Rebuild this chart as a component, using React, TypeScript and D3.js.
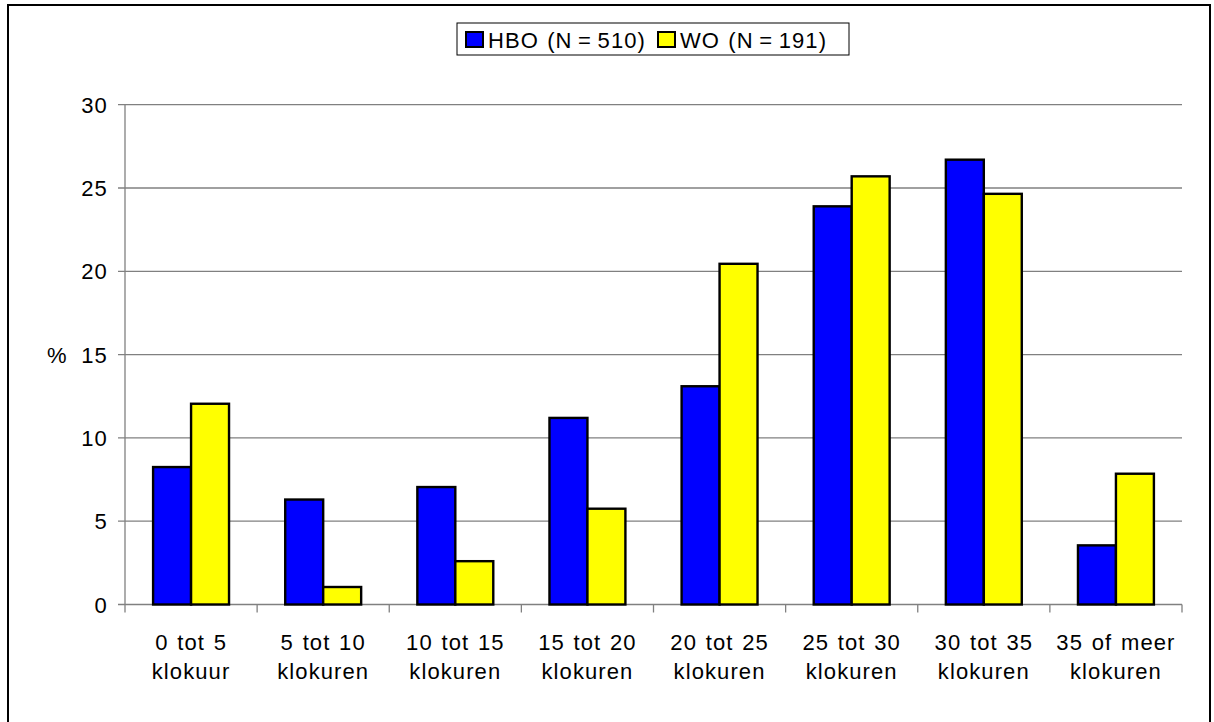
import React from "react";
import * as d3 from "d3";

const categories = [
  ["0 tot 5", "klokuur"],
  ["5 tot 10", "klokuren"],
  ["10 tot 15", "klokuren"],
  ["15 tot 20", "klokuren"],
  ["20 tot 25", "klokuren"],
  ["25 tot 30", "klokuren"],
  ["30 tot 35", "klokuren"],
  ["35 of meer", "klokuren"],
];
const seriesNames = ["HBO (N=510)", "WO (N=191)"];
const seriesColors = ["#0000FF", "#FFFF00"];
const hbo = [8.25, 6.3, 7.05, 11.2, 13.1, 23.9, 26.7, 3.55];
const wo = [12.05, 1.05, 2.6, 5.75, 20.45, 25.7, 24.65, 7.85];
const yTicks = [0, 5, 10, 15, 20, 25, 30];

const FONT = "'Liberation Sans', Arial, sans-serif";

export default function App() {
  const W = 1214;
  const H = 722;
  const left = 125;
  const right = 1182;
  const top = 104.7;
  const bottom = 604.5;
  const keys = categories.map((c) => c.join(" "));
  const x0 = d3.scaleBand<string>().domain(keys).range([left, right]).padding(0);
  const x1 = d3
    .scaleBand<string>()
    .domain(seriesNames)
    .range([0, x0.bandwidth()])
    .paddingInner(0)
    .paddingOuter(0.74);
  const y = d3.scaleLinear().domain([0, 30]).range([bottom, top]);
  const data = [hbo, wo];

  return (
    <svg
      width={W}
      height={H}
      style={{ position: "absolute", left: 0, top: 0, background: "#fff" }}
      fontFamily={FONT}
    >
      <rect x={0} y={0} width={W} height={H} fill="#fff" />
      {/* outer frame */}
      <rect x={8} y={5} width={1202} height={730} fill="none" stroke="#000" strokeWidth={2} />

      {/* gridlines */}
      {yTicks.map((t) => (
        <line key={"g" + t} x1={118} x2={right} y1={y(t)} y2={y(t)} stroke="#808080" strokeWidth={1.3} />
      ))}
      {/* y axis */}
      <line x1={left} x2={left} y1={top} y2={bottom} stroke="#808080" strokeWidth={1.3} />
      {yTicks.map((t) => (
        <text
          key={"yl" + t}
          x={108}
          y={y(t) + 8}
          textAnchor="end"
          fontSize={22}
          letterSpacing={1.2}
          fill="#000"
        >
          {t}
        </text>
      ))}
      <text x={47} y={y(15) + 8} fontSize={22} fill="#000">
        %
      </text>

      {/* x ticks */}
      {keys.map((k) => (
        <line key={"xt" + k} x1={x0(k)!} x2={x0(k)!} y1={bottom} y2={bottom + 8} stroke="#808080" strokeWidth={1.3} />
      ))}
      <line x1={right} x2={right} y1={bottom} y2={bottom + 8} stroke="#808080" strokeWidth={1.3} />

      {/* bars */}
      {keys.map((k, i) =>
        seriesNames.map((s, j) => {
          const v = data[j][i];
          const bx = x0(k)! + x1(s)!;
          return (
            <rect
              key={k + s}
              x={bx}
              y={y(v)}
              width={x1.bandwidth()}
              height={y(0) - y(v)}
              fill={seriesColors[j]}
              stroke="#000"
              strokeWidth={2.4}
            />
          );
        })
      )}

      {/* x labels */}
      {categories.map((c, i) => {
        const cx = x0(keys[i])! + x0.bandwidth() / 2;
        return (
          <text
            key={"xl" + i}
            x={cx}
            textAnchor="middle"
            fontSize={22}
            letterSpacing={1.1}
            wordSpacing={1.5}
            fill="#000"
          >
            <tspan x={cx} y={650}>
              {c[0]}
            </tspan>
            <tspan x={cx} y={679}>
              {c[1]}
            </tspan>
          </text>
        );
      })}

      {/* legend */}
      <rect x={457} y={23} width={392} height={32} fill="#fff" stroke="#000" strokeWidth={1} />
      {seriesNames.map((s, j) => {
        const lx = j === 0 ? 466 : 658;
        return (
          <g key={"lg" + s}>
            <rect x={lx} y={32} width={17} height={15} fill={seriesColors[j]} stroke="#000" strokeWidth={2} />
            <text x={lx + 22} y={48} fontSize={22} letterSpacing={1.1} wordSpacing={1} fill="#000">
              {s.replace("=", "\u2009=\u2009")}
            </text>
          </g>
        );
      })}
    </svg>
  );
}
